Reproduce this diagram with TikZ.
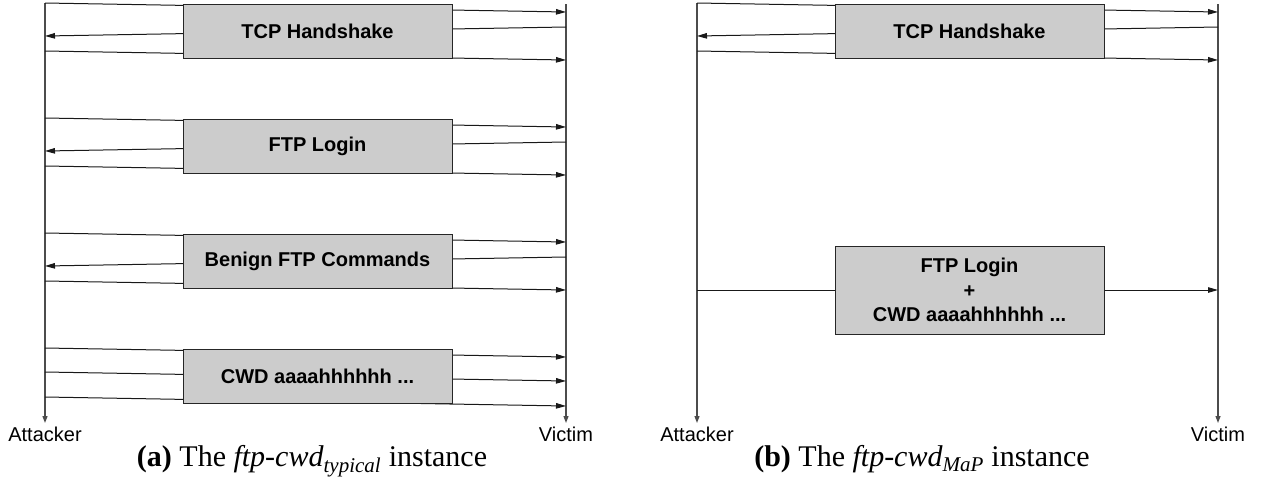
\documentclass[tikz,border=0pt]{standalone}
\usepackage{fontspec}
\setmainfont{Liberation Serif}
\setsansfont{Liberation Sans}
\usetikzlibrary{arrows.meta,positioning}

\tikzset{
  life/.style={draw=black!70, line width=1.2pt, -{Triangle[length=7pt,width=5pt]}},
  msg/.style={draw=black!90, line width=1pt, -{Triangle[length=10pt,width=5.5pt]}},
  wire/.style={draw=black!90, line width=1pt},
  phase/.style={draw=black!85, fill=black!20, line width=1pt, minimum width=269pt,
    minimum height=54pt, inner sep=0pt, align=center,
    font=\sffamily\bfseries\fontsize{20}{24.5}\selectfont},
  party/.style={inner sep=0pt, font=\sffamily\fontsize{20}{24}\selectfont},
  subcap/.style={inner sep=0pt, anchor=base, font=\fontsize{30}{34}\selectfont},
}

\begin{document}
\begin{tikzpicture}[x=1pt, y=-1pt]
  \useasboundingbox (0,0) rectangle (1261,483);
  % lifelines of both panels
  \foreach \p/\dx in {a/0, b/652} {
    \coordinate (att\p top) at (45+\dx,3);
    \coordinate (att\p end) at (45+\dx,423);
    \coordinate (vic\p top) at (566+\dx,4);
    \coordinate (vic\p end) at (566+\dx,423);
    \draw[life] (att\p top) -- (att\p end);
    \draw[life] (vic\p top) -- (vic\p end);
    \node[party, below=4pt of att\p end] (att\p) {Attacker};
    \node[party, below=4pt of vic\p end] (vic\p) {Victim};
  }
  % three-way exchanges behind each box
  \foreach \dx/\y in {0/0, 0/115, 0/230, 652/0} {
    \coordinate (out1) at (45+\dx,\y+3);   \coordinate (in1) at (566+\dx,\y+12);
    \coordinate (out2) at (566+\dx,\y+27); \coordinate (in2) at (45+\dx,\y+36);
    \coordinate (out3) at (45+\dx,\y+51);  \coordinate (in3) at (566+\dx,\y+60);
    \foreach \m in {1,2,3}
      \draw[msg] (out\m) -- (in\m);
  }
  % overflow requests, attacker -> victim only
  \foreach \s/\e in {348/357, 372/381, 397/406} {
    \coordinate (req) at (45,\s);
    \coordinate (hit) at (566,\e);
    \draw[msg] (req) -- (hit);
  }
  % panel b: one flat request
  \coordinate (attb mid) at (697,290);
  \coordinate (vicb mid) at (1218,290);

  \node[phase] (tcpa) at (317.5,31) {TCP Handshake};
  \node[phase] (logina) at (317.5,146) {FTP Login};
  \node[phase] (benigna) at (317.5,261) {Benign FTP Commands};
  \node[phase] (cwda) at (317.5,376) {CWD aaaahhhhhh ...};
  \node[phase] (tcpb) at (969.5,31) {TCP Handshake};
  \node[phase, minimum height=88pt] (exploitb) at (969.5,290)
    {FTP Login\\+\\CWD aaaahhhhhh ...};
  \draw[wire] (attb mid) -- (exploitb.west);
  \draw[msg] (exploitb.east) -- (vicb mid);

  \node[subcap] (capa) at (312,466)
    {\textbf{(a)} The \textit{ftp-cwd}\textsubscript{\textit{typical}} instance};
  \node[subcap] (capb) at (922,466)
    {\textbf{(b)} The \textit{ftp-cwd}\textsubscript{\textit{MaP}} instance};
\end{tikzpicture}
\end{document}
